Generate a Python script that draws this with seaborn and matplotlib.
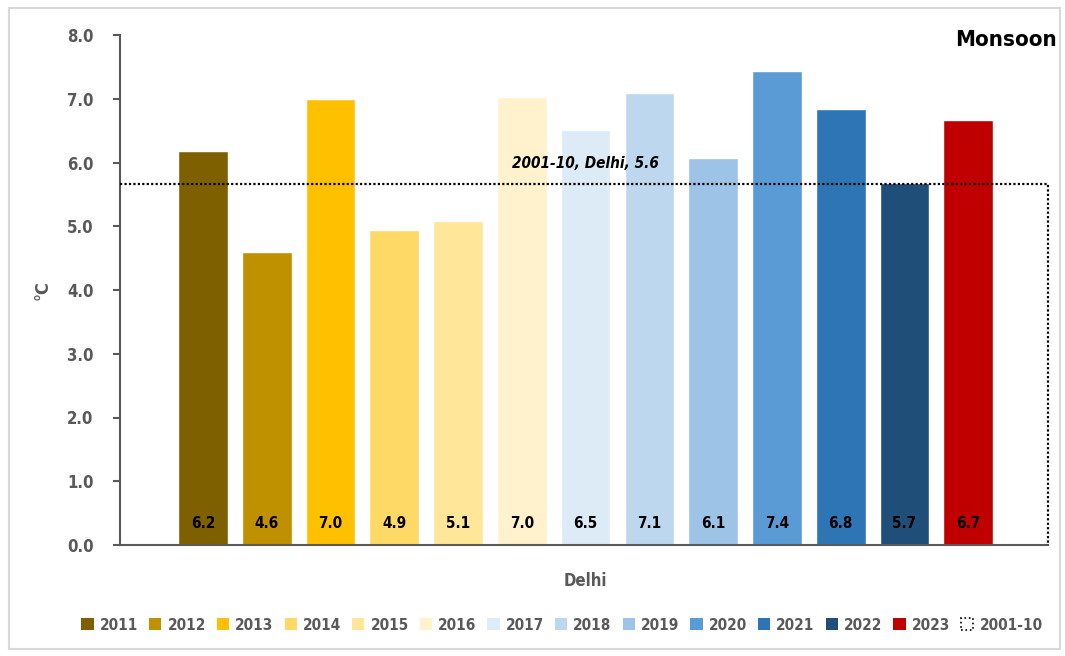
import pandas as pd
import numpy as np
import matplotlib
matplotlib.use("Agg")
import matplotlib.pyplot as plt
import seaborn as sns
from matplotlib.patches import Patch, Rectangle

# DATA
years = ["2011", "2012", "2013", "2014", "2015", "2016", "2017",
         "2018", "2019", "2020", "2021", "2022", "2023"]
values = [6.18, 4.60, 7.00, 4.94, 5.08, 7.03, 6.51, 7.09, 6.07, 7.44, 6.84, 5.68, 6.67]
value_labels = ["6.2", "4.6", "7.0", "4.9", "5.1", "7.0", "6.5",
                "7.1", "6.1", "7.4", "6.8", "5.7", "6.7"]
colors = ["#7F6000", "#BF9000", "#FFC000", "#FFD966", "#FFE699", "#FFF2CC", "#DDEBF7",
          "#BDD7EE", "#9DC3E6", "#5B9BD5", "#2E75B6", "#1F4E79", "#C00000"]
baseline_label = "2001-10"
baseline_value = 5.66
baseline_text = "2001-10, Delhi, 5.6"
city = "Delhi"
season = "Monsoon"

df = pd.DataFrame({"year": years, "value": values})

sns.set_style("white")
plt.rcParams["font.family"] = ["DejaVu Sans"]
plt.rcParams["font.stretch"] = "condensed"
plt.rcParams["font.weight"] = "bold"

fig = plt.figure(figsize=(10.65, 6.56), dpi=100)
fig.patches.append(Rectangle((0.008, 0.01), 0.987, 0.978, transform=fig.transFigure,
                             fill=False, edgecolor="#d9d9d9", linewidth=1.5))
ax = fig.add_axes([120 / 1065, 1 - 545 / 656, 928 / 1065, 510 / 656])

sns.barplot(data=df, x="year", y="value", hue="year", palette=colors,
            width=0.78, legend=False, ax=ax, saturation=1)

# 2001-10 box drawn as dotted outline
ax.plot([-1.3, 13.25, 13.25], [baseline_value, baseline_value, 0],
        color="black", linestyle=(0, (1, 1)), linewidth=1.6, clip_on=False, zorder=3)
ax.text(6.0, baseline_value + 0.33, baseline_text,
        ha="center", va="center", fontsize=11, fontstyle="italic", fontweight="bold", color="black")

for i, lab in enumerate(value_labels):
    ax.text(i, 0.33, lab, ha="center", va="center", fontsize=11, fontweight="bold", color="black")

ax.set_xlim(-1.3, 13.25)
ax.set_ylim(0, 8)
ax.set_yticks(np.arange(0, 8.1, 1.0))
ax.set_yticklabels([f"{v:.1f}" for v in np.arange(0, 8.1, 1.0)], fontsize=12,
                   fontweight="bold", color="#595959")
ax.set_xticks([])
ax.set_xlabel(city, fontsize=12, fontweight="bold", color="#595959")
ax.xaxis.set_label_coords((585 - 120) / 928, -27 / 510)
ax.set_ylabel("°C", fontsize=13, fontweight="bold", color="#595959")
ax.yaxis.set_label_coords((52 - 120) / 928, 0.5)
ax.tick_params(axis="y", which="both", left=True, length=5, width=1.5, color="#595959", pad=14)

for side in ["top", "right"]:
    ax.spines[side].set_visible(False)
for side in ["left", "bottom"]:
    ax.spines[side].set_color("#595959")
    ax.spines[side].set_linewidth(1.5)

fig.text(1057 / 1065, 1 - 40 / 656, season, ha="right", va="center",
         fontsize=16, fontweight="bold", color="black")

handles = [Patch(facecolor=c, edgecolor="none", label=y) for y, c in zip(years, colors)]
handles.append(Patch(facecolor="none", edgecolor="black", linestyle=":", linewidth=1.2,
                     label=baseline_label))
fig.legend(handles=handles, loc="center", bbox_to_anchor=(562 / 1065, 1 - 625 / 656),
           ncol=14, frameon=False, handlelength=0.8, handleheight=0.8, handletextpad=0.4,
           columnspacing=0.72, prop={"size": 11, "weight": "bold", "stretch": "condensed"},
           labelcolor="#595959")

fig.savefig("out.png", dpi=100)
